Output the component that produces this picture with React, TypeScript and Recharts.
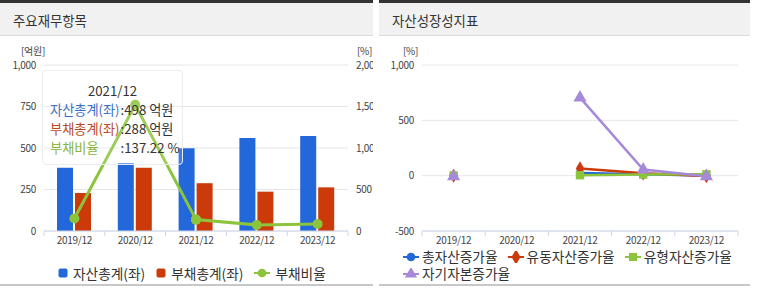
import React from 'react';
import {
  ComposedChart,
  LineChart,
  Bar,
  Line,
  XAxis,
  YAxis,
  CartesianGrid,
  Legend,
  Tooltip,
  Symbols,
} from 'recharts';

// ---------- data ----------
const periods = ['2019/12', '2020/12', '2021/12', '2022/12', '2023/12'];
const totalAssets = [381, 408, 498, 560, 572];
const totalLiabilities = [229, 381, 288, 237, 263];
const debtRatio = [150, 1520, 137.22, 73, 85];

const growthTotalAssets = [0, null, 25, 12, 2];
const growthCurrentAssets = [0, null, 65, 22, -3];
const growthTangibleAssets = [2, null, 4, 10, 12];
const growthEquity = [-8, null, 705, 55, -6];

const leftTicks = [0, 250, 500, 750, 1000];
const rightTicks = [0, 500, 1000, 1500, 2000];
const growthTicks = [-500, 0, 500, 1000];

const finKeys = ['assets', 'liabilities', 'ratio'];
const growthKeys = ['g1', 'g2', 'g3', 'g4'];

// ---------- styles ----------
const FONT = "'Noto Sans CJK KR', 'Noto Sans', sans-serif";
const BLUE = '#2268da';
const RED = '#cc3a0a';
const GREEN = '#8cc43c';
const PURPLE = '#a689d9';
const AXIS = '#ccd6eb';
const GRID = '#e6e6e6';
const TEXT = '#444';

const finData = periods.map((p, i) => ({
  period: p,
  assets: totalAssets[i],
  liabilities: totalLiabilities[i],
  ratio: debtRatio[i],
}));

const growthData = periods.map((p, i) => ({
  period: p,
  g1: growthTotalAssets[i],
  g2: growthCurrentAssets[i],
  g3: growthTangibleAssets[i],
  g4: growthEquity[i],
}));

const fmt = (v: number) => v.toLocaleString('en-US');

const tickStyle = { fontSize: 10, fill: TEXT, fontFamily: FONT, letterSpacing: -0.3 };

function BoundaryTick(props: any) {
  const { x, y, payload, index, visibleTicksCount } = props;
  const half = payload && typeof payload.offset === 'number' ? payload.offset : 0;
  const top = y - 6;
  return (
    <g>
      <line x1={x - half} x2={x - half} y1={top} y2={top + 5} stroke={AXIS} />
      {index === visibleTicksCount - 1 && (
        <line x1={x + half} x2={x + half} y1={top} y2={top + 5} stroke={AXIS} />
      )}
      <text
        x={x}
        y={y}
        dy="0.71em"
        textAnchor="middle"
        fontSize={10}
        fill={TEXT}
        fontFamily={FONT}
        letterSpacing={-0.3}
      >
        {payload.value}
      </text>
    </g>
  );
}

function UnitLabel(props: any) {
  const { viewBox, value, anchor, dx } = props;
  const vb = viewBox || {};
  const x = anchor === 'end' ? vb.x + vb.width + dx : vb.x + dx;
  return (
    <text
      x={x}
      y={vb.y - 10}
      textAnchor={anchor}
      fontSize={10}
      fill={TEXT}
      fontFamily={FONT}
      letterSpacing={-0.3}
    >
      {value}
    </text>
  );
}

const tooltipUnits: Record<string, string> = { assets: '억원', liabilities: '억원', ratio: '%' };
const tooltipColors: Record<string, string> = { assets: '#3a6fc4', liabilities: '#b9481d', ratio: '#8ab43a' };

function FinTooltip(props: any) {
  const { active, payload, label } = props;
  if (!active || !payload || !payload.length) return null;
  return (
    <div
      style={{
        width: 141,
        height: 95,
        boxSizing: 'border-box',
        border: '1px solid #ececec',
        borderRadius: 4,
        background: 'rgba(255,255,255,0.15)',
        fontFamily: FONT,
        fontSize: 13.2,
        lineHeight: '19px',
        paddingTop: 10,
        paddingLeft: 7,
        color: '#333',
      }}
    >
      <div style={{ textAlign: 'center', paddingRight: 7 }}>{label}</div>
      <div style={{ display: 'grid', gridTemplateColumns: 'max-content max-content' }}>
        {payload.map((p: any) => (
          <React.Fragment key={p.dataKey}>
            <span style={{ color: tooltipColors[p.dataKey], paddingRight: 1 }}>{p.name}</span>
            <span>
              :{p.dataKey === 'ratio' ? Number(p.value).toFixed(2) : fmt(p.value)} {tooltipUnits[p.dataKey]}
            </span>
          </React.Fragment>
        ))}
      </div>
    </div>
  );
}

function LegendIcon({ type, color }: { type: string; color: string }) {
  if (type === 'rect') {
    return (
      <svg width={10} height={10} style={{ display: 'block' }}>
        <rect x={0.5} y={0.5} width={9} height={9} rx={2} fill={color} />
      </svg>
    );
  }
  const symType = type === 'line' ? 'circle' : type;
  const size = symType === 'circle' ? 60 : symType === 'square' ? 64 : symType === 'triangle' ? 64 : 70;
  return (
    <svg width={16} height={12} style={{ display: 'block' }}>
      <line x1={0} x2={16} y1={6} y2={6} stroke={color} strokeWidth={2} />
      <Symbols cx={8} cy={6} type={symType as any} size={size} fill={color} />
    </svg>
  );
}

function ordered(payload: any[], keys: string[]) {
  return [...(payload || [])].sort(
    (a, b) => keys.indexOf(String(a.dataKey)) - keys.indexOf(String(b.dataKey))
  );
}

function FinLegend(props: any) {
  const items = ordered(props.payload, finKeys);
  return (
    <div
      style={{
        height: 18,
        display: 'flex',
        alignItems: 'center',
        paddingLeft: 58,
        fontFamily: FONT,
        fontSize: 13.7,
        color: '#333',
        whiteSpace: 'nowrap',
      }}
    >
      {items.map((e: any) => (
        <span key={e.value} style={{ display: 'inline-flex', alignItems: 'center', marginRight: 11 }}>
          <LegendIcon type={e.type} color={e.color} />
          <span style={{ marginLeft: 5 }}>{e.value}</span>
        </span>
      ))}
    </div>
  );
}

function GrowthLegend(props: any) {
  const items = ordered(props.payload, growthKeys);
  const rows = [items.slice(0, 3), items.slice(3)];
  return (
    <div
      style={{
        height: 34,
        paddingLeft: 24,
        fontFamily: FONT,
        fontSize: 13.7,
        color: '#333',
        whiteSpace: 'nowrap',
      }}
    >
      {rows.map((r: any[], i: number) => (
        <div key={i} style={{ display: 'flex', alignItems: 'center', height: 17, lineHeight: '17px' }}>
          {r.map((e: any) => (
            <span key={e.value} style={{ display: 'inline-flex', alignItems: 'center', marginRight: 10 }}>
              <LegendIcon type={e.type} color={e.color} />
              <span style={{ marginLeft: 3 }}>{e.value}</span>
            </span>
          ))}
        </div>
      ))}
    </div>
  );
}

function makeDot(type: string, color: string, size: number) {
  return (props: any) => {
    const { cx, cy, index } = props;
    if (cx == null || cy == null || Number.isNaN(cy)) return <g key={index} />;
    return <Symbols key={index} cx={cx} cy={cy} type={type as any} size={size} fill={color} />;
  };
}

function Panel({ left, width, title, children }: any) {
  return (
    <div style={{ position: 'absolute', left, top: 0, width, height: 286, overflow: 'hidden' }}>
      <div style={{ position: 'absolute', left: 0, top: 0, width, height: 3, background: '#333' }} />
      <div
        style={{
          position: 'absolute',
          left: 0,
          top: 3,
          width,
          height: 32,
          background: '#f1f1f1',
          borderBottom: '1px solid #dcdcdc',
        }}
      />
      <div
        style={{
          position: 'absolute',
          left: 13,
          top: 10,
          fontSize: 13.4,
          lineHeight: '20px',
          color: '#333',
          fontFamily: FONT,
        }}
      >
        {title}
      </div>
      <div style={{ position: 'absolute', left: 0, top: 284, width, height: 2, background: '#c8c8c8' }} />
      <div style={{ position: 'absolute', left: 0, top: 0 }}>{children}</div>
    </div>
  );
}

export default function App() {
  return (
    <div
      style={{
        position: 'absolute',
        left: 0,
        top: 0,
        width: 760,
        height: 289,
        background: '#fff',
        fontFamily: FONT,
      }}
    >
      <Panel left={0} width={373} title="주요재무항목">
        <ComposedChart
          width={373}
          height={286}
          data={finData}
          margin={{ top: 65, right: 0, bottom: 4, left: 0 }}
          barSize={16}
          barGap={2}
        >
          <CartesianGrid vertical={false} stroke={GRID} />
          <XAxis
            dataKey="period"
            height={33}
            interval={0}
            tickLine={false}
            tickSize={5}
            tickMargin={1}
            axisLine={{ stroke: AXIS }}
            tick={<BoundaryTick />}
          />
          <YAxis
            width={44}
            domain={[0, 1000]}
            ticks={leftTicks}
            tickFormatter={fmt}
            axisLine={false}
            tickLine={false}
            tick={tickStyle}
            label={<UnitLabel value="[억원]" anchor="end" dx={1} />}
          />
          <YAxis
            yAxisId="right"
            orientation="right"
            width={25}
            domain={[0, 2000]}
            ticks={rightTicks}
            tickFormatter={fmt}
            axisLine={false}
            tickLine={false}
            tick={{ ...tickStyle, textAnchor: 'start' }}
            label={<UnitLabel value="[%]" anchor="start" dx={9} />}
          />
          <Bar dataKey="assets" name="자산총계(좌)" fill={BLUE} legendType="rect" isAnimationActive={false} />
          <Bar dataKey="liabilities" name="부채총계(좌)" fill={RED} legendType="rect" isAnimationActive={false} />
          <Line
            yAxisId="right"
            dataKey="ratio"
            name="부채비율"
            stroke={GREEN}
            strokeWidth={3}
            legendType="line"
            dot={{ r: 5, fill: GREEN, stroke: 'none' }}
            activeDot={{ r: 5, fill: GREEN, stroke: 'none' }}
            isAnimationActive={false}
          />
          <Legend verticalAlign="bottom" content={<FinLegend />} />
          <Tooltip
            defaultIndex={2}
            active
            cursor={false}
            position={{ x: 42, y: 70 }}
            content={<FinTooltip />}
            isAnimationActive={false}
            wrapperStyle={{ outline: 'none' }}
          />
        </ComposedChart>
      </Panel>
      <Panel left={379} width={371} title="자산성장성지표">
        <LineChart
          width={371}
          height={286}
          data={growthData}
          margin={{ top: 65, right: 12, bottom: 4, left: 0 }}
        >
          <CartesianGrid vertical={false} stroke={GRID} />
          <XAxis
            dataKey="period"
            scale="band"
            height={17}
            interval={0}
            tickLine={false}
            tickSize={5}
            tickMargin={1}
            axisLine={{ stroke: AXIS }}
            tick={<BoundaryTick />}
          />
          <YAxis
            width={43}
            domain={[-500, 1000]}
            ticks={growthTicks}
            tickFormatter={fmt}
            axisLine={false}
            tickLine={false}
            tick={tickStyle}
            label={<UnitLabel value="[%]" anchor="end" dx={-4} />}
          />
          <Line
            dataKey="g1"
            name="총자산증가율"
            stroke={BLUE}
            strokeWidth={2.5}
            legendType="circle"
            dot={makeDot('circle', BLUE, 55)}
            activeDot={false}
            isAnimationActive={false}
          />
          <Line
            dataKey="g2"
            name="유동자산증가율"
            stroke={RED}
            strokeWidth={2.5}
            legendType="diamond"
            dot={makeDot('diamond', RED, 60)}
            activeDot={false}
            isAnimationActive={false}
          />
          <Line
            dataKey="g3"
            name="유형자산증가율"
            stroke={GREEN}
            strokeWidth={2.5}
            legendType="square"
            dot={makeDot('square', GREEN, 70)}
            activeDot={false}
            isAnimationActive={false}
          />
          <Line
            dataKey="g4"
            name="자기자본증가율"
            stroke={PURPLE}
            strokeWidth={2.5}
            legendType="triangle"
            dot={makeDot('triangle', PURPLE, 75)}
            activeDot={false}
            isAnimationActive={false}
          />
          <Legend verticalAlign="bottom" content={<GrowthLegend />} />
        </LineChart>
      </Panel>
    </div>
  );
}
